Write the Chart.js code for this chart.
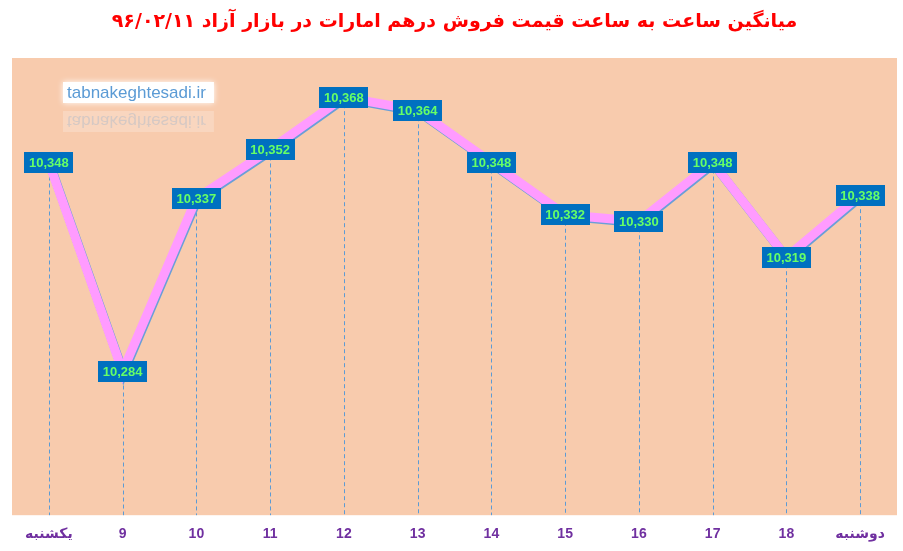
<!DOCTYPE html>
<html lang="fa">
<head>
  <meta charset="UTF-8">
  <title>قیمت درهم</title>
  <script src="https://cdn.jsdelivr.net/npm/chart.js"></script>
  <style>
    body { margin: 0; background: #fff; }
    #box { width: 903px; height: 551px; }
  </style>
</head>
<body>
  <div id="box">
    <canvas id="grafico" dir="rtl" width="903" height="551"></canvas>
  </div>
  <script>
    // hours of the day (first and last are the day names)
    var saatha = ['یکشنبه', '9', '10', '11', '12', '13', '14', '15', '16', '17', '18', 'دوشنبه']
    // average price of dirham, toman
    var gheymat = [10348, 10284, 10337, 10352, 10368, 10364, 10348, 10332, 10330, 10348, 10319, 10338]
    var onvan = 'میانگین ساعت به ساعت قیمت فروش درهم امارات در بازار آزاد ۹۶/۰۲/۱۱'
    var site = 'tabnakeghtesadi.ir'

    var yMin = 10240
    var yMax = 10380

    var tazyin = {
      id: 'tazyin',
      beforeDraw: function (chart) {
        var ctx = chart.ctx
        var a = chart.chartArea
        ctx.save()
        ctx.fillStyle = '#ffffff'
        ctx.fillRect(0, 0, chart.width, chart.height)
        ctx.fillStyle = '#F8CBAD'
        ctx.fillRect(a.left, a.top, a.right - a.left, a.bottom - a.top)
        ctx.restore()
      },
      beforeDatasetsDraw: function (chart) {
        var ctx = chart.ctx
        var a = chart.chartArea

        // watermark with its reflection
        ctx.save()
        ctx.direction = 'ltr'
        ctx.font = '17px "Liberation Sans", sans-serif'
        var w = ctx.measureText(site).width
        var bx = a.left + 51, by = a.top + 24
        ctx.shadowColor = '#ffffff'
        ctx.shadowBlur = 6
        ctx.fillStyle = '#ffffff'
        ctx.fillRect(bx, by, w + 12, 21)
        ctx.shadowBlur = 0
        ctx.fillStyle = '#5B9BD5'
        ctx.textBaseline = 'alphabetic'
        ctx.textAlign = 'left'
        ctx.fillText(site, bx + 4, by + 16)
        ctx.globalAlpha = 0.22
        ctx.translate(0, 2 * (by + 24))
        ctx.scale(1, -1)
        ctx.fillStyle = '#ffffff'
        ctx.fillRect(bx, by - 2, w + 12, 21)
        ctx.fillStyle = '#5B9BD5'
        ctx.fillText(site, bx + 4, by + 14)
        ctx.restore()

        // dashed drop lines
        var meta = chart.getDatasetMeta(0)
        ctx.save()
        ctx.strokeStyle = '#5B9BD5'
        ctx.lineWidth = 1
        ctx.setLineDash([4, 3])
        meta.data.forEach(function (p) {
          ctx.beginPath()
          ctx.moveTo(Math.round(p.x) + 0.5, p.y)
          ctx.lineTo(Math.round(p.x) + 0.5, a.bottom)
          ctx.stroke()
        })
        ctx.restore()
      },
      beforeDatasetDraw: function (chart) {
        var ctx = chart.ctx
        ctx.save()
        ctx.shadowColor = '#6A9FD8'
        ctx.shadowOffsetX = 1
        ctx.shadowOffsetY = 1.5
        ctx.shadowBlur = 0
      },
      afterDatasetDraw: function (chart) {
        chart.ctx.restore()
      },
      afterDatasetsDraw: function (chart) {
        var ctx = chart.ctx
        var meta = chart.getDatasetMeta(0)
        ctx.save()
        ctx.direction = 'ltr'
        ctx.font = 'bold 13px "Liberation Sans", sans-serif'
        ctx.textAlign = 'center'
        ctx.textBaseline = 'middle'
        meta.data.forEach(function (p, i) {
          var txt = gheymat[i].toLocaleString('en-US')
          ctx.fillStyle = '#0070C0'
          ctx.fillRect(Math.round(p.x - 24.5), Math.round(p.y - 10.5), 49, 21)
          ctx.fillStyle = '#66FF66'
          ctx.fillText(txt, p.x, p.y + 1)
        })
        ctx.restore()
      }
    }

    new Chart(document.getElementById('grafico'), {
      type: 'line',
      data: {
        labels: saatha,
        datasets: [{
          data: gheymat,
          borderColor: '#FF9BFF',
          borderWidth: 9,
          pointRadius: 0,
          tension: 0,
          fill: false
        }]
      },
      options: {
        responsive: false,
        animation: false,
        events: [],
        layout: { padding: { left: 12, right: 6, top: 0, bottom: -3 } },
        plugins: {
          legend: { display: false },
          tooltip: { enabled: false },
          title: {
            display: true,
            text: onvan,
            color: '#FF0000',
            font: { size: 19, weight: 'bold', family: '"DejaVu Sans", sans-serif' },
            padding: { top: 11, bottom: 24.2 }
          }
        },
        scales: {
          x: {
            offset: true,
            grid: { display: false, drawTicks: false },
            border: { display: false },
            ticks: {
              color: '#7030A0',
              padding: 11,
              font: { size: 14, weight: 'bold', family: '"Liberation Sans", "DejaVu Sans", sans-serif' },
              maxRotation: 0,
              autoSkip: false
            }
          },
          y: {
            display: false,
            min: yMin,
            max: yMax
          }
        }
      },
      plugins: [tazyin]
    })
  </script>
</body>
</html>
